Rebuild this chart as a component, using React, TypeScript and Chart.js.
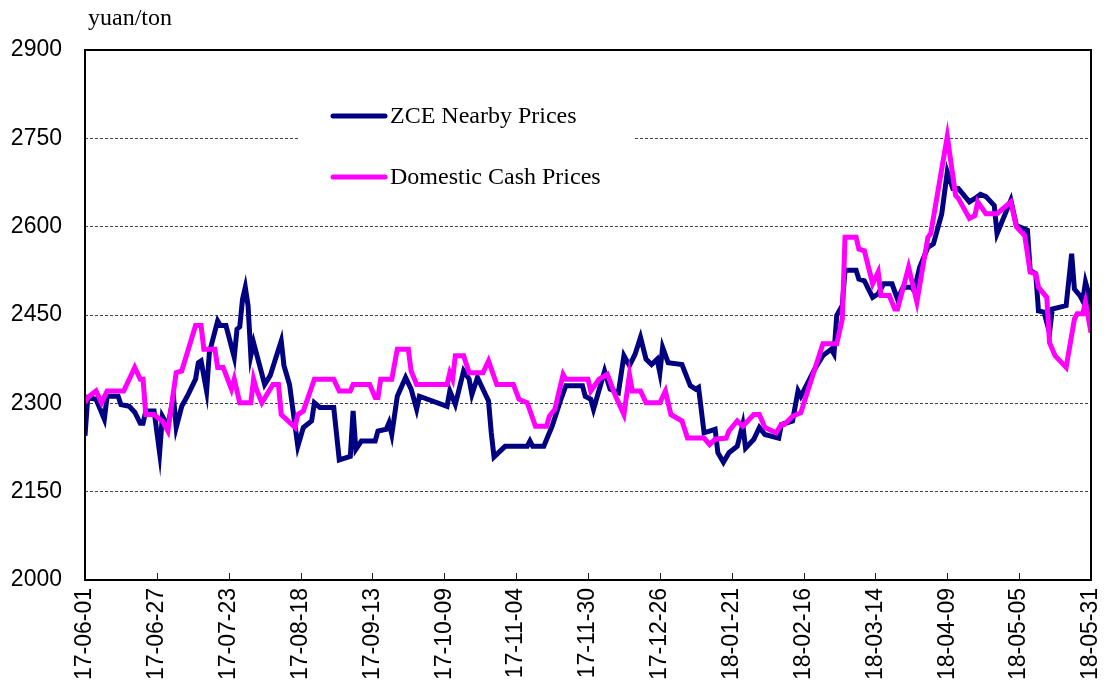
import React, { useEffect, useRef } from "react";
import { Chart, registerables } from "chart.js";

Chart.register(...registerables);

// Day offsets are counted from 2017-06-01
const unitLabel = "yuan/ton";
const seriesNames = ["ZCE Nearby Prices", "Domestic Cash Prices"];
const tickStepDays = 26;
const lastDay = 364;

const zceDays = [
  0, 1, 4, 7, 8, 12, 13, 16, 18, 20, 21, 22, 25, 27, 28, 30, 32, 33, 35, 37,
  40, 41, 42, 44, 45, 48, 49, 51, 54, 55, 56, 57, 58, 59, 60, 61, 65, 67, 71, 72,
  74, 77, 79, 82, 83, 85, 90, 92, 96, 97, 98, 100, 105, 106, 109, 110, 111, 113, 116, 118,
  120, 121, 131, 132, 134, 137, 139, 140, 142, 144, 146, 147, 148, 152, 160, 161, 162, 166, 169, 172,
  174, 180, 181, 183, 184, 188, 190, 193, 195, 197, 199, 201, 203, 205, 207, 208, 209, 211, 216, 219,
  221, 222, 224, 226, 228, 229, 231, 233, 236, 238, 239, 242, 244, 246, 251, 252, 256, 258, 259, 264,
  267, 270, 271, 272, 274, 275, 279, 280, 282, 285, 287, 289, 292, 294, 296, 299, 300, 302, 305, 307,
  310, 312, 314, 316, 320, 322, 324, 326, 329, 330, 335, 337, 341, 342, 344, 345, 347, 349, 350, 355,
  357, 358, 360, 361, 362, 363, 364,
];
const zceValues = [
  2245, 2310, 2307, 2273, 2312, 2312, 2298, 2295, 2285, 2266, 2266, 2287, 2287, 2216, 2278, 2261, 2312, 2259, 2295, 2312,
  2341, 2369, 2372, 2321, 2386, 2440, 2432, 2432, 2378, 2426, 2430, 2477, 2497, 2466, 2381, 2403, 2332, 2347, 2406, 2364,
  2332, 2227, 2259, 2270, 2301, 2293, 2293, 2204, 2210, 2287, 2222, 2236, 2236, 2253, 2256, 2267, 2247, 2312, 2344, 2324,
  2290, 2312, 2295, 2321, 2298, 2355, 2341, 2315, 2344, 2324, 2304, 2250, 2209, 2227, 2227, 2236, 2227, 2227, 2261, 2304,
  2330, 2330, 2312, 2307, 2290, 2355, 2324, 2318, 2381, 2364, 2383, 2412, 2375, 2366, 2375, 2352, 2395, 2369, 2366, 2330,
  2324, 2327, 2250, 2253, 2256, 2216, 2200, 2216, 2227, 2264, 2224, 2239, 2259, 2247, 2241, 2264, 2270, 2321, 2312, 2358,
  2381, 2392, 2384, 2449, 2466, 2526, 2526, 2511, 2508, 2480, 2486, 2503, 2503, 2477, 2497, 2497, 2491, 2531, 2565, 2571,
  2622, 2693, 2665, 2665, 2642, 2648, 2655, 2651, 2636, 2588, 2645, 2602, 2594, 2526, 2520, 2457, 2455, 2420, 2460, 2466,
  2554, 2494, 2483, 2474, 2506, 2489, 2430,
];

const cashDays = [
  0, 1, 4, 6, 8, 14, 16, 18, 20, 21, 22, 25, 27, 28, 30, 33, 35, 40, 42, 43,
  47, 48, 50, 53, 54, 56, 60, 61, 62, 64, 68, 70, 71, 76, 77, 79, 83, 90, 92, 96,
  97, 103, 105, 106, 107, 111, 113, 117, 118, 120, 131, 132, 133, 134, 137, 139, 144, 146, 149, 155,
  157, 160, 163, 167, 168, 170, 173, 174, 182, 183, 186, 189, 192, 195, 197, 198, 201, 203, 208, 210,
  212, 216, 218, 224, 226, 228, 232, 233, 236, 238, 242, 244, 246, 250, 252, 253, 256, 259, 267, 272,
  274, 275, 279, 280, 282, 285, 287, 288, 291, 293, 294, 298, 301, 303, 305, 306, 312, 315, 316, 320,
  322, 323, 326, 330, 335, 337, 340, 342, 344, 345, 348, 349, 351, 355, 358, 359, 361, 362, 364,
];
const cashValues = [
  2301, 2310, 2321, 2301, 2321, 2321, 2341, 2361, 2341, 2341, 2281, 2281, 2273, 2270, 2253, 2352, 2355, 2432, 2432, 2392,
  2392, 2361, 2361, 2324, 2341, 2301, 2301, 2341, 2324, 2301, 2332, 2332, 2281, 2259, 2281, 2287, 2341, 2341, 2321, 2321,
  2332, 2332, 2310, 2310, 2341, 2341, 2392, 2392, 2355, 2332, 2332, 2352, 2341, 2381, 2381, 2352, 2352, 2372, 2332, 2332,
  2307, 2301, 2261, 2261, 2278, 2290, 2349, 2341, 2341, 2321, 2341, 2349, 2312, 2281, 2349, 2321, 2321, 2301, 2301, 2321,
  2281, 2270, 2241, 2241, 2230, 2239, 2241, 2253, 2270, 2261, 2281, 2281, 2259, 2250, 2264, 2264, 2278, 2284, 2401, 2401,
  2443, 2582, 2582, 2562, 2559, 2503, 2523, 2483, 2483, 2460, 2460, 2531, 2472, 2528, 2582, 2588, 2753, 2653, 2648, 2614,
  2619, 2642, 2622, 2622, 2642, 2600, 2585, 2523, 2520, 2497, 2480, 2403, 2381, 2361, 2443, 2452, 2452, 2472, 2420,
];

const yMin = 2000;
const yMax = 2900;
const yStep = 150;

function dayLabel(d: number): string {
  const base = Date.UTC(2017, 5, 1);
  const dt = new Date(base + Math.round(d) * 86400000);
  const yy = String(dt.getUTCFullYear()).slice(2);
  const mm = String(dt.getUTCMonth() + 1).padStart(2, "0");
  const dd = String(dt.getUTCDate()).padStart(2, "0");
  return `${yy}-${mm}-${dd}`;
}

const NAVY = "#000080";
const MAGENTA = "#FF00FF";

const framePlugin = {
  id: "frameAndExtras",
  afterDatasetsDraw(chart: any) {
    const { ctx, chartArea } = chart;
    const { left, top, right, bottom } = chartArea;
    ctx.save();
    // legend box
    ctx.fillStyle = "#fff";
    ctx.fillRect(298, 92, 337, 106);
    const entries = [
      { name: seriesNames[0], color: NAVY, y: 116 },
      { name: seriesNames[1], color: MAGENTA, y: 177 },
    ];
    ctx.lineCap = "round";
    for (const e of entries) {
      ctx.strokeStyle = e.color;
      ctx.lineWidth = 5;
      ctx.beginPath();
      ctx.moveTo(333, e.y);
      ctx.lineTo(385, e.y);
      ctx.stroke();
      ctx.fillStyle = "#000";
      ctx.font = '24px "Liberation Serif", "Times New Roman", serif';
      ctx.textBaseline = "middle";
      ctx.textAlign = "left";
      ctx.fillText(e.name, 390, e.y + 1);
    }
    ctx.lineCap = "butt";
    // x tick marks (inside)
    const xs = chart.scales.x;
    ctx.strokeStyle = "#222";
    ctx.lineWidth = 1;
    for (const t of xs.ticks) {
      const px = Math.round(xs.getPixelForValue(t.value)) + 0.5;
      ctx.beginPath();
      ctx.moveTo(px, bottom - 7);
      ctx.lineTo(px, bottom);
      ctx.stroke();
    }
    // frame
    ctx.strokeStyle = "#000";
    ctx.lineWidth = 2;
    ctx.strokeRect(left, top, right - left, bottom - top);
    // unit label
    ctx.fillStyle = "#000";
    ctx.font = '24px "Liberation Serif", "Times New Roman", serif';
    ctx.textBaseline = "alphabetic";
    ctx.textAlign = "left";
    ctx.fillText(unitLabel, 88, 25);
    ctx.restore();
  },
};

export default function App() {
  const ref = useRef<HTMLCanvasElement | null>(null);
  useEffect(() => {
    if (!ref.current) return;
    const chart = new Chart(ref.current, {
      type: "line",
      data: {
        datasets: [
          {
            label: seriesNames[0],
            data: zceDays.map((d, i) => ({ x: d, y: zceValues[i] })),
            borderColor: NAVY,
            backgroundColor: NAVY,
            borderWidth: 5,
            pointRadius: 0,
            tension: 0,
            order: 1,
          },
          {
            label: seriesNames[1],
            data: cashDays.map((d, i) => ({ x: d, y: cashValues[i] })),
            borderColor: MAGENTA,
            backgroundColor: MAGENTA,
            borderWidth: 5,
            pointRadius: 0,
            tension: 0,
            order: 0,
          },
        ],
      },
      options: {
        responsive: false,
        animation: false,
        devicePixelRatio: 1,
        layout: { padding: { top: 50, right: 16, left: 0, bottom: 0 } },
        plugins: {
          legend: { display: false },
          tooltip: { enabled: false },
          title: { display: false },
        },
        scales: {
          x: {
            type: "linear",
            min: 0,
            max: lastDay,
            afterFit: (s: any) => {
              s.height = 105;
              s.paddingLeft = 0;
              s.paddingRight = 0;
            },
            ticks: {
              stepSize: tickStepDays,
              autoSkip: false,
              maxRotation: 90,
              minRotation: 90,
              padding: 0,
              color: "#000",
              font: { family: '"Liberation Sans", Arial, sans-serif', size: 23 },
              callback: (v: any) => dayLabel(Number(v)),
            },
            grid: { display: false },
            border: { display: false },
          },
          y: {
            type: "linear",
            min: yMin,
            max: yMax,
            afterFit: (s: any) => {
              s.width = 85;
              s.paddingTop = 0;
              s.paddingBottom = 0;
            },
            ticks: {
              stepSize: yStep,
              padding: 23,
              color: "#000",
              font: { family: '"Liberation Sans", Arial, sans-serif', size: 23 },
              callback: (v: any) => String(v),
            },
            grid: {
              drawTicks: false,
              lineWidth: 1,
              color: (c: any) =>
                c.tick && (c.tick.value === yMin || c.tick.value === yMax) ? "rgba(0,0,0,0)" : "#444",
            },
            border: { display: false, dash: [3, 2] },
          },
        },
      },
      plugins: [framePlugin],
    });
    return () => chart.destroy();
  }, []);
  return (
    <div style={{ position: "absolute", left: 0, top: 0, width: 1107, height: 685, background: "#fff" }}>
      <canvas ref={ref} width={1107} height={685} style={{ display: "block" }} />
    </div>
  );
}
